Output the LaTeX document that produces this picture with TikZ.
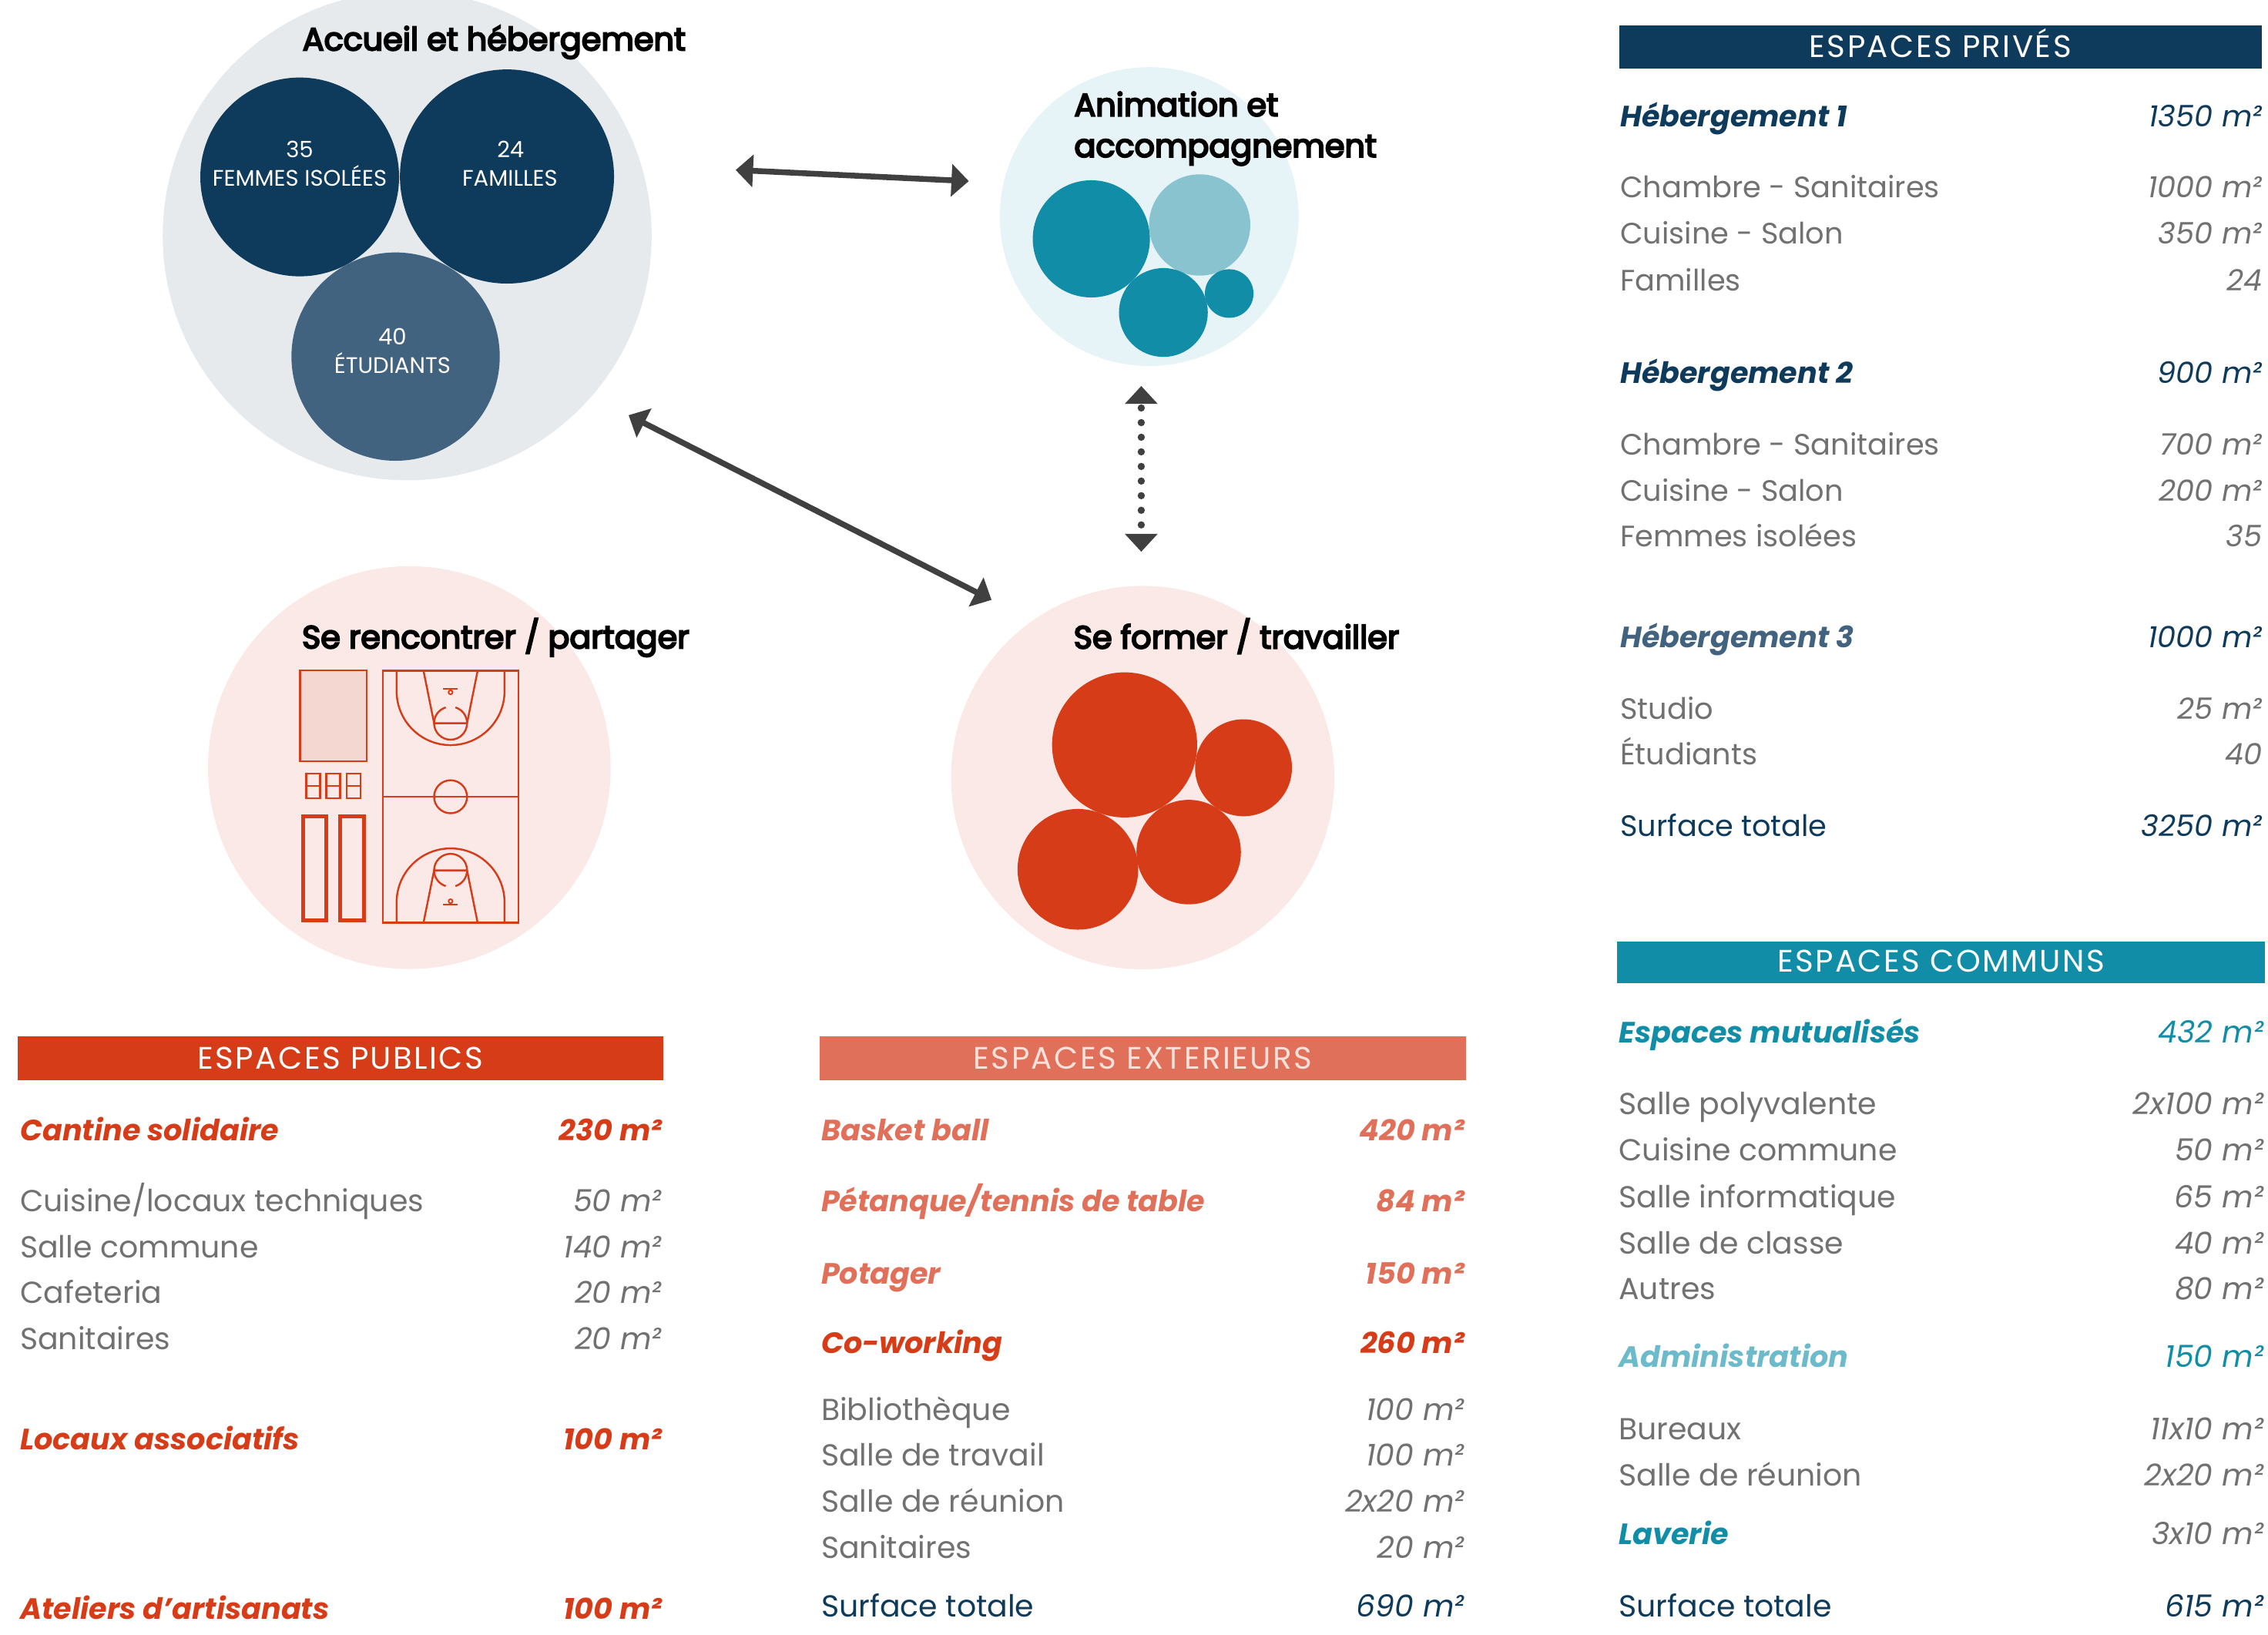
\documentclass[tikz,border=0pt]{standalone}
\usepackage{fontspec}
\setmainfont{Poppins}
\newfontfamily\titlefont[FakeBold=5]{Poppins}
\newfontfamily\hdrfont[LetterSpace=6]{Poppins}
\usetikzlibrary{arrows.meta}
\definecolor{navy}{HTML}{0E3A5B}
\definecolor{slate}{HTML}{42637F}
\definecolor{teal}{HTML}{118DA8}
\definecolor{lteal}{HTML}{8AC3D0}
\definecolor{palblue}{HTML}{E6F3F7}
\definecolor{bggray}{HTML}{E6EAED}
\definecolor{pink}{HTML}{FAE9E7}
\definecolor{orng}{HTML}{D63C17}
\definecolor{salmon}{HTML}{E0705A}
\definecolor{txtgray}{HTML}{717171}
\definecolor{admteal}{HTML}{6DBACA}
\definecolor{arrowgray}{HTML}{404040}
\definecolor{lightorng}{HTML}{F5D7D2}
\definecolor{exttxt}{HTML}{FBE1DA}
\newcommand\rwfont{\fontsize{21}{25}\selectfont}
\newcommand\hdfont{\fontsize{20.3}{25}\selectfont}
\newcommand\prfont{\fontsize{20.4}{25}\selectfont}
\newcommand\mytrow[8]{\node[#5] (#1L) at (#2,#4) {#6};\node[#7] (#1R) at (#3,#4) {#8};}
\newcommand\mycourthalf{%
  \draw[court] (-37.3,-87.05) -- (-37.3,-73) arc[start angle=180,end angle=0,radius=37.3] -- (37.3,-87.05);
  \draw[court] (-18.7,-87.05) -- (-11.4,-50.85) -- (11.4,-50.85) -- (18.7,-87.05);
  \draw[court] (11.4,-50.85) arc[start angle=0,end angle=180,radius=11.4];
  \draw[court] (-11.4,-50.85) arc[start angle=180,end angle=253,radius=11.4];
  \draw[court] (11.4,-50.85) arc[start angle=360,end angle=287,radius=11.4];
  \draw[court] (-5.1,-74.6) -- (5.1,-74.6);
  \draw[court,line width=1pt] (0,-72.2) circle[radius=1.4];
}
\begin{document}
\begin{tikzpicture}[x=1pt,y=-1pt,
  blob/.style={circle,draw=none,inner sep=0pt,outer sep=0pt},
  ttl/.style={anchor=base west,inner sep=0pt,font=\titlefont\fontsize{22}{26}\selectfont,text=black},
  ctxt/.style={anchor=base,inner sep=0pt,font=\fontsize{15.5}{18}\selectfont,text=white},
  bar/.style={rectangle,draw=none,inner sep=0pt,outer sep=0pt},
  bartxt/.style={anchor=base,inner sep=0pt,font=\hdrfont\fontsize{21.5}{25}\selectfont,text=white},
  lbl/.style={anchor=base west,inner sep=0pt,font=\rwfont,text=txtgray},
  num/.style={anchor=base east,inner sep=0pt,font=\rwfont\itshape,text=txtgray},
  hlbl/.style={anchor=base west,inner sep=0pt,font=\hdfont\bfseries\itshape},
  hnum/.style={anchor=base east,inner sep=0pt,font=\hdfont\bfseries\itshape},
  plbl/.style={anchor=base west,inner sep=0pt,font=\prfont,text=txtgray},
  pnum/.style={anchor=base east,inner sep=0pt,font=\prfont\itshape,text=txtgray},
  phlbl/.style={anchor=base west,inner sep=0pt,font=\hdfont\bfseries\itshape},
  court/.style={draw=orng,line width=1.3pt},
  bigarrow/.style={draw=arrowgray,line width=4pt,{Triangle[width=22pt,length=12pt]}-{Triangle[width=22pt,length=12pt]}},
  dotline/.style={draw=arrowgray,line width=5pt,line cap=round,dash pattern=on 0pt off 10.1pt,dash phase=6.5pt,{Triangle[width=22pt,length=12.4pt]}-{Triangle[width=22pt,length=12.4pt]}}
]
\useasboundingbox (0,0) rectangle (1568,1129.7);

% ---- Accueil et hebergement
\node[blob,fill=bggray,minimum size=338] (acc) at (281.5,163) {};
\node[blob,fill=navy,minimum size=137.4] (fem) at (207.2,122.3) {};
\node[blob,fill=navy,minimum size=148] (fam) at (350.5,122) {};
\node[blob,fill=slate,minimum size=144] (etu) at (273.5,246.5) {};
\node[ctxt] (femn) at (207.2,108.9) {35};
\node[ctxt] (feml) at (207.2,128.4) {FEMMES ISOLÉES};
\node[ctxt] (famn) at (353,108.9) {24};
\node[ctxt] (faml) at (352.5,128.4) {FAMILLES};
\node[ctxt] (etun) at (271.3,238.6) {40};
\node[ctxt] (etul) at (271.3,258.1) {ÉTUDIANTS};
\node[ttl] (tacc) at (209,34.8) {Accueil et hébergement};

% ---- Animation
\node[blob,fill=palblue,minimum size=206.6] (anim) at (794.5,149.7) {};
\node[blob,fill=teal,minimum size=81] (an1) at (754.5,165.1) {};
\node[blob,fill=lteal,minimum size=70] (an2) at (829.4,155.5) {};
\node[blob,fill=teal,minimum size=61.4] (an3) at (804.3,216) {};
\node[blob,fill=teal,minimum size=33.6] (an4) at (849.8,202.9) {};
\node[ttl] (tan1) at (742.5,80.2) {Animation et};
\node[ttl] (tan2) at (742.5,108.5) {accompagnement};

% ---- Se rencontrer
\node[blob,fill=pink,minimum size=278.4] (renc) at (283,530.6) {};
\node[ttl] (trenc) at (208.6,448.1) {Se rencontrer / partager};
\draw[court,line width=1.2pt,fill=lightorng] (207.5,463.4) rectangle (253.4,526.1);
\foreach \xa/\xb in {211.6/221.2,225.5/235.1,239.6/249.3}{
  \draw[court] (\xa,534.7) rectangle (\xb,551.8);
  \draw[court] (\xa,543.3) -- (\xb,543.3);
}
\draw[court,line width=2.6pt] (209.4,564.5) rectangle (225.6,636.1);
\draw[court,line width=2.6pt] (235.3,564.5) rectangle (251.5,636.1);
\draw[court] (264.6,463.7) rectangle (358.4,637.8);
\draw[court] (264.6,550.75) -- (358.4,550.75);
\draw[court] (311.5,550.75) circle[radius=11.4];
\begin{scope}[shift={(311.5,550.75)}]
  \mycourthalf
\end{scope}
\begin{scope}[shift={(311.5,550.75)},yscale=-1]
  \mycourthalf
\end{scope}

% ---- Se former
\node[blob,fill=pink,minimum size=265] (form) at (790,537.5) {};
\node[blob,fill=orng,minimum size=100.3] (fo1) at (777.5,514.9) {};
\node[blob,fill=orng,minimum size=67] (fo2) at (859.7,530.7) {};
\node[blob,fill=orng,minimum size=83.4] (fo3) at (745.2,600.9) {};
\node[blob,fill=orng,minimum size=72.2] (fo4) at (821.8,589) {};
\node[ttl] (tform) at (742.1,448.2) {Se former / travailler};

% ---- connectors
\coordinate (a1) at (508.6,117.5);
\coordinate (a2) at (669.8,125.2);
\draw[bigarrow] (a1) -- (a2);
\coordinate (b1) at (434.6,287);
\coordinate (b2) at (685.5,414.7);
\draw[bigarrow] (b1) -- (b2);
\coordinate (c1) at (789,266.8);
\coordinate (c2) at (789,381.4);
\draw[dotline] (c1) -- (c2);

% ---- ESPACES PRIVES
\node[bar,fill=navy,minimum width=444,minimum height=29.6] (hpriv) at (1341.5,32.5) {};
\node[bartxt] (hprivt) at (1341.5,39.7) {ESPACES PRIVÉS};
\mytrow{pa}{1120}{1564}{87.6}{phlbl,text=navy}{Hébergement 1}{pnum,text=navy}{1350 m²}
\mytrow{pb}{1120}{1564}{136.6}{plbl}{Chambre - Sanitaires}{pnum}{1000 m²}
\mytrow{pc}{1120}{1564}{168.8}{plbl}{Cuisine - Salon}{pnum}{350 m²}
\mytrow{pd}{1120}{1564}{200.8}{plbl}{Familles}{pnum}{24}
\mytrow{pe}{1120}{1564}{265}{phlbl,text=navy}{Hébergement 2}{pnum,text=navy}{900 m²}
\mytrow{pf}{1120}{1564}{314.4}{plbl}{Chambre - Sanitaires}{pnum}{700 m²}
\mytrow{pg}{1120}{1564}{346.4}{plbl}{Cuisine - Salon}{pnum}{200 m²}
\mytrow{ph}{1120}{1564}{378.1}{plbl}{Femmes isolées}{pnum}{35}
\mytrow{pi}{1120}{1564}{447.6}{phlbl,text=slate}{Hébergement 3}{pnum,text=navy}{1000 m²}
\mytrow{pj}{1120}{1564}{497}{plbl}{Studio}{pnum}{25 m²}
\mytrow{pk}{1120}{1564}{528.8}{plbl}{Étudiants}{pnum}{40}
\mytrow{pl}{1120}{1564}{577.9}{plbl,text=navy}{Surface totale}{pnum,text=navy}{3250 m²}

% ---- ESPACES COMMUNS
\node[bar,fill=teal,minimum width=447.5,minimum height=29.1] (hcom) at (1341.85,665.25) {};
\node[bartxt] (hcomt) at (1341.85,672) {ESPACES COMMUNS};
\mytrow{ca}{1119}{1565}{721.1}{hlbl,text=teal}{Espaces mutualisés}{num,text=teal}{432 m²}
\mytrow{cb}{1119}{1565}{770.5}{lbl}{Salle polyvalente}{num}{2x100 m²}
\mytrow{cc}{1119}{1565}{802.4}{lbl}{Cuisine commune}{num}{50 m²}
\mytrow{cd}{1119}{1565}{834.6}{lbl}{Salle informatique}{num}{65 m²}
\mytrow{ce}{1119}{1565}{866.6}{lbl}{Salle de classe}{num}{40 m²}
\mytrow{cf}{1119}{1565}{898.1}{lbl}{Autres}{num}{80 m²}
\mytrow{cg}{1119}{1565}{945.1}{hlbl,text=admteal}{Administration}{num,text=teal}{150 m²}
\mytrow{ch}{1119}{1565}{995.1}{lbl}{Bureaux}{num}{11x10 m²}
\mytrow{ci}{1119}{1565}{1027}{lbl}{Salle de réunion}{num}{2x20 m²}
\mytrow{cj}{1119}{1565}{1067.7}{hlbl,text=teal}{Laverie}{num}{3x10 m²}
\mytrow{ck}{1119}{1565}{1117.8}{lbl,text=navy}{Surface totale}{num,text=navy}{615 m²}

% ---- ESPACES PUBLICS
\node[bar,fill=orng,minimum width=446.4,minimum height=30.4] (hpub) at (235.4,731.3) {};
\node[bartxt] (hpubt) at (235.4,739.2) {ESPACES PUBLICS};
\mytrow{ua}{13.7}{457.7}{788.7}{hlbl,text=orng}{Cantine solidaire}{hnum,text=orng}{230 m²}
\mytrow{ub}{13.7}{457.7}{837.7}{lbl}{Cuisine/locaux techniques}{num}{50 m²}
\mytrow{uc}{13.7}{457.7}{869.5}{lbl}{Salle commune}{num}{140 m²}
\mytrow{ud}{13.7}{457.7}{901.1}{lbl}{Cafeteria}{num}{20 m²}
\mytrow{ue}{13.7}{457.7}{932.9}{lbl}{Sanitaires}{num}{20 m²}
\mytrow{uf}{13.7}{457.7}{1002.3}{hlbl,text=orng}{Locaux associatifs}{hnum,text=orng}{100 m²}
\mytrow{ug}{13.7}{457.7}{1119.3}{hlbl,text=orng}{Ateliers d’artisanats}{hnum,text=orng}{100 m²}

% ---- ESPACES EXTERIEURS
\node[bar,fill=salmon,minimum width=446.7,minimum height=30.4] (hext) at (790.05,731.3) {};
\node[bartxt,text=exttxt] (hextt) at (790.05,739.2) {ESPACES EXTERIEURS};
\mytrow{ea}{567.6}{1012.5}{788.7}{hlbl,text=salmon}{Basket ball}{hnum,text=salmon}{420 m²}
\mytrow{eb}{567.6}{1012.5}{837.7}{hlbl,text=salmon}{Pétanque/tennis de table}{hnum,text=salmon}{84 m²}
\mytrow{ec}{567.6}{1012.5}{887.5}{hlbl,text=salmon}{Potager}{hnum,text=salmon}{150 m²}
\mytrow{ed}{567.6}{1012.5}{935.7}{hlbl,text=orng}{Co-working}{hnum,text=orng}{260 m²}
\mytrow{ee}{567.6}{1012.5}{981.9}{lbl}{Bibliothèque}{num}{100 m²}
\mytrow{ef}{567.6}{1012.5}{1013.2}{lbl}{Salle de travail}{num}{100 m²}
\mytrow{eg}{567.6}{1012.5}{1045.3}{lbl}{Salle de réunion}{num}{2x20 m²}
\mytrow{eh}{567.6}{1012.5}{1077.1}{lbl}{Sanitaires}{num}{20 m²}
\mytrow{ei}{567.6}{1012.5}{1117.9}{lbl,text=navy}{Surface totale}{num,text=navy}{690 m²}
\end{tikzpicture}
\end{document}
